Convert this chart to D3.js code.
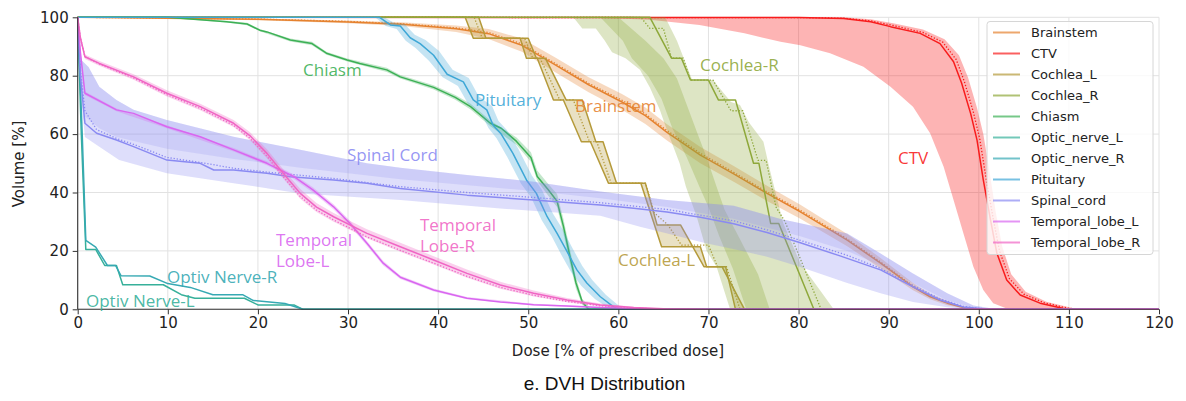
<!DOCTYPE html>
<html><head><meta charset="utf-8">
<script src="https://cdn.jsdelivr.net/npm/d3@7"></script>
<style>body{margin:0;background:#fff}svg{display:block}</style>
</head><body><svg id="c" width="1186" height="401"></svg>
<script>
// ---------- DATA (dose %, volume %) ----------
const structures = ["Brainstem","CTV","Cochlea_L","Cochlea_R","Chiasm","Optic_nerve_L","Optic_nerve_R","Pituitary","Spinal_cord","Temporal_lobe_L","Temporal_lobe_R"];
const xTicks = [0,10,20,30,40,50,60,70,80,90,100,110,120];
const yTicks = [0,20,40,60,80,100];

const brainstemMean = [[0,100],[20,99.3],[30,98.4],[36,97.6],[42,96.1],[45.6,94.4],[49.3,90.4],[53,83.7],[56.7,76.9],[60.4,71.0],[63,66.3],[65.4,60.6],[69.1,52.8],[72.8,46.4],[76.5,39.7],[80.2,33.4],[85.4,23.7],[89.1,15.8],[92.7,7.7],[94.6,4.3],[96.5,2.1],[98.3,0.6],[100,0],[120,0]];
const brainstemMedian = [[0,100],[20,99.4],[30,98.6],[36,97.8],[42,96.4],[45.6,94.8],[49.3,90.9],[53,84.2],[56.7,77.4],[60.4,71.6],[63,66.9],[65.4,61.2],[69.1,53.4],[72.8,46.9],[76.5,40.2],[80.2,33.9],[85.4,24.1],[89.1,16.2],[92.7,8.0],[94.6,4.6],[96.5,2.3],[98.3,0.7],[100.2,0],[120,0]];
const brainstemLo = [[0,100],[20,99],[30,98],[36,97],[42,95],[45.6,92.6],[49.3,88.2],[53,81.2],[56.7,74.3],[60.4,68.3],[63,63.5],[65.4,57.8],[69.1,50],[72.8,43.7],[76.5,37.1],[80.2,31],[85.4,21.6],[89.1,14],[92.7,6.5],[94.6,3.4],[96.5,1.4],[98.3,0.3],[99.5,0],[120,0]];
const brainstemHi = [[0,100],[20,99.6],[30,98.9],[36,98.3],[42,97.2],[45.6,96],[49.3,92.7],[53,86.2],[56.7,79.5],[60.4,73.7],[63,69.1],[65.4,63.4],[69.1,55.6],[72.8,49.1],[76.5,42.3],[80.2,35.8],[85.4,25.8],[89.1,17.6],[92.7,9],[94.6,5.3],[96.5,2.8],[98.3,0.9],[100.5,0],[120,0]];

const ctvMean = [[0,100],[80,99.9],[85,99.6],[88,98.5],[90.2,96.8],[93.5,94.5],[95.7,91],[97.2,84.8],[98.1,77.4],[99.1,67],[99.8,58],[100.5,44.3],[101.3,30.6],[102,19.3],[103.1,10],[104.6,4.9],[106.8,2.1],[109.4,0.3],[112,0],[120,0]];
const ctvMedian = [[0,100],[80,99.9],[85,99.7],[88,98.8],[90.5,97.2],[93.8,94.8],[96,91.5],[97.5,85.5],[98.4,78],[99.4,67.5],[100.1,58.5],[100.8,45],[101.6,31],[102.3,20],[103.4,10.5],[105,5.2],[107.2,2.3],[110,0.3],[112.5,0],[120,0]];
const ctvLo = [[0,100],[55,100],[60,99.6],[63.5,99.2],[69,97.4],[74,94.5],[78,91.6],[80.2,90.4],[83.5,87.7],[87.2,83.1],[90.2,76.2],[92.7,69.4],[94.6,60.3],[96.1,48.8],[97.2,37.4],[98.3,26],[99.4,14.6],[100.5,6.6],[101.6,2.1],[103.1,0.3],[104.5,0],[120,0]];
const ctvHi = [[0,100],[85,100],[88,99.3],[90.5,98],[93.8,95.8],[96.2,92.5],[97.8,87],[98.8,79.5],[99.8,69],[100.5,60],[101.2,47],[101.9,33],[102.6,21.5],[103.6,12],[105.2,6],[107.5,2.6],[110.5,0.4],[113,0],[120,0]];

const cochleaLA = [[0,100],[43.0,100],[43.9,92.8],[49.1,92.8],[49.8,86],[51.0,86],[52.8,71.7],[53.9,71.7],[55.9,57.4],[56.9,57.4],[58.9,43.2],[62.5,43.2],[64.8,21.4],[69.1,21.4],[69.8,14.6],[71.9,14.6],[73.0,0],[120,0]];
const cochleaLB = [[0,100],[44.5,100],[45.3,92.8],[50.0,92.8],[50.9,86],[51.9,86],[54.2,71.7],[56.0,71.7],[57.5,57.4],[58.3,57.4],[59.8,43.2],[63.0,43.2],[64.3,28.9],[66.9,28.9],[69.5,14.6],[71.5,14.6],[74.0,0],[120,0]];
const cochleaLMedian = [[0,100],[44,100],[44.9,92.8],[49.6,92.8],[50.5,86],[51.3,86],[53.5,71.7],[55,71.7],[56.8,57.4],[57.6,57.4],[59.2,43.2],[63,43.2],[64,33],[65.5,28.9],[67,22],[70,22],[71,14.6],[72,14.6],[73.5,0],[120,0]];

const cochleaRMean = [[0,100],[63.5,100],[65.9,86],[67,86],[68,78.5],[70,78.5],[71.1,71.7],[73,71.7],[75,50],[75.6,50],[76.9,29.4],[77.8,29.4],[81.7,0],[120,0]];
const cochleaRMedian = [[0,100],[62.5,100],[63.5,96.2],[65,96.2],[65.9,86],[67.2,86],[68,78.5],[70.5,78.5],[72.5,68],[73.8,68],[75.5,51],[76.4,51],[77.5,35],[78.5,30],[82.5,0],[120,0]];
const cochleaRLo = [[0,100],[55,100],[56,96.2],[57.5,96.2],[58.5,92],[59.3,88],[60.8,86],[62.4,82],[63.5,76],[64.6,68.3],[65.2,63],[66.8,50],[67.5,42],[68.7,31.7],[69.8,20],[70.9,14.6],[72.4,0],[120,0]];
const cochleaRHi = [[0,100],[65.2,100],[66.5,92],[68.2,78.5],[70.5,78.5],[72.5,71],[73.5,70],[74.5,64],[76.1,57.4],[76.8,48],[78.3,29.5],[80.2,15.8],[82.5,6],[83.9,0],[120,0]];
const cochleaRLo2 = [[0,100],[58,100],[60.5,92],[61.5,86],[63.3,80],[64.8,72],[66,62],[67.6,52],[69,42],[70,35],[71.2,25],[72.7,14],[74.2,0],[120,0]];
const cochleaRHi2 = [[0,100],[60,100],[63,92],[65,86],[66.5,79],[67.6,70],[68.8,60],[69.8,52],[70.9,42],[71.8,34],[73.5,24],[75.5,12],[76.8,0],[120,0]];

const chiasmMean = [[0,100],[10,100],[11.4,99.7],[16.5,98.5],[18.8,97.7],[20.2,95.6],[21,95],[23.6,92.2],[26,91],[27.6,87.7],[29.9,85.4],[31.3,84.2],[34.3,82],[35.8,79.6],[39.5,76],[41.9,72.6],[43.6,69.4],[45.8,63.7],[47,62],[48.7,57.5],[50.3,52],[51,45.5],[52.2,41],[53.2,37],[53.9,28.5],[54.6,18.5],[55.3,9],[56,2.5],[56.7,0],[120,0]];
const chiasmLo = [[0,100],[10,100],[11.4,99.5],[16.5,98.2],[18.8,97.3],[20.2,95.2],[23.6,91.7],[26,90.4],[27.6,87.2],[29.9,84.9],[34.3,81.3],[35.8,79],[39.5,75.3],[41.9,71.8],[43.6,68.4],[45.8,62.7],[48.7,56.3],[50.3,50.5],[51,44],[52.2,39],[53.2,35],[53.9,26],[54.6,16],[55.3,7],[56,1.5],[56.5,0],[120,0]];
const chiasmHi = [[0,100],[10,100],[11.4,99.9],[16.5,98.8],[18.8,98.1],[20.2,96],[23.6,92.7],[26,91.6],[27.6,88.2],[29.9,85.9],[34.3,82.7],[35.8,80.2],[39.5,76.7],[41.9,73.4],[43.6,70.4],[45.8,64.7],[48.7,58.8],[50.3,53.8],[51,47.5],[52.2,43],[53.2,39.5],[53.9,31],[54.6,21],[55.3,11],[56,3.5],[57,0],[120,0]];

const opticLMean = [[0,100],[0.4,60],[0.9,20.5],[2,20.5],[3,15],[4.3,15],[5,8.4],[9.5,8.4],[11.5,5],[13,3.8],[18.5,3.8],[20,1.5],[24,1.5],[25,0],[120,0]];
const opticRMean = [[0,100],[0.5,60],[0.9,23.6],[2,21.3],[3.3,15],[4.2,15],[4.8,11.5],[8,11.4],[10,8.8],[12.5,7.5],[15,5],[18.3,5],[19.5,3],[23,2],[25,0],[120,0]];

const pituitaryMean = [[0,100],[33.5,100],[34.7,97.4],[35.8,97],[36.9,93],[38,91],[39.5,87],[41,80.5],[42.8,77.9],[43.9,71.7],[45.4,68.3],[46.1,63],[47,60],[48.3,53.4],[49.8,44.3],[50.9,39.7],[52.1,31.7],[53.2,26],[54.3,19.8],[55.4,13.5],[56.5,9],[58,4.3],[59.4,1],[60,0],[120,0]];
const pituitaryLo = [[0,100],[33,100],[34.2,97],[35.4,96],[36.4,92],[37.5,89.5],[39,85],[40.5,79.5],[42.2,76.5],[43.3,70.5],[44.8,66.8],[45.6,62],[46.5,58.5],[47.7,52],[49.2,43],[50.3,38.5],[51.5,30.5],[52.6,25],[53.7,18.5],[54.8,12.5],[55.9,8],[57.4,3.5],[58.8,0.6],[59.4,0],[120,0]];
const pituitaryHi = [[0,100],[34,100],[35.2,98],[36.3,97.6],[37.4,94],[38.6,92.2],[40.1,88.5],[41.6,82],[43.4,79.2],[44.5,73],[46,69.5],[46.7,64.5],[47.6,61.5],[48.9,55],[50.4,45.8],[51.5,41],[52.7,33],[53.8,27.5],[54.9,21],[56,14.8],[57.1,10],[58.6,5],[60,1.4],[60.6,0],[120,0]];

const spinalMean = [[0,100],[0.3,80],[0.8,63.7],[2.1,60.3],[4.3,58],[6.2,55.7],[9.9,51.1],[13.6,50],[15.1,47.7],[17.3,47.7],[21,46.6],[23.6,45.4],[28.4,44.3],[32.1,43.2],[35.8,41.4],[43.2,39.1],[50.6,37.4],[58,35.7],[61.7,34.6],[65.4,33.3],[69.1,31.5],[72.8,29.3],[76.5,26.3],[80.2,22.8],[84.6,18.3],[89.1,13.5],[92.7,7.7],[95.7,3.2],[98.3,0.8],[101,0],[120,0]];
const spinalMedian = [[0,100],[0.3,82],[0.8,68],[2.1,61.5],[4.3,58.5],[6.2,56.5],[9.9,52],[13.6,50.3],[17.3,48.3],[21,47],[28.4,44.8],[35.8,42],[43.2,40],[50.6,38.3],[58,36.5],[65.4,34.2],[72.8,30.3],[76.5,27.2],[80.2,23.6],[85.4,18.5],[89.1,14],[92.7,8.2],[95.7,3.6],[98.3,1],[101,0],[120,0]];
const spinalLo = [[0,100],[0.3,75],[0.8,59],[2.4,55.7],[4.6,51.1],[9.9,46.6],[17.3,43.2],[24.7,39.7],[35.8,37.4],[46.9,34.5],[58,32],[62.4,28.3],[66,25.5],[69.6,22.7],[73,20.5],[76.5,18],[80.2,14.5],[85.4,9],[89.1,5.5],[92.7,2.5],[96.5,0.7],[99,0],[120,0]];
const spinalHi = [[0,100],[0.4,85.4],[1.2,83],[2.4,76.2],[4.3,71.7],[6.2,68.3],[9.9,64.8],[17.3,59.1],[24.7,54.6],[32.1,50],[35.8,48.5],[43.2,46],[50.6,43.7],[58,40.3],[65.4,37.4],[72.8,35.5],[77.9,31],[80.2,29.5],[85.4,26],[89.1,19.1],[92.7,12.3],[96.5,5.5],[99.4,1.3],[102,0],[120,0]];
const spinalLo2 = [[0,100],[0.3,80],[0.8,66],[2.4,62],[4.3,59],[9.9,55],[17.3,51.5],[24.7,48.5],[35.8,44.5],[50.6,40.5],[58,38],[65.4,35],[72.8,31],[80.2,25],[85.4,20],[89.1,15],[92.7,9],[96.5,3],[100,0],[120,0]];

const temporalLMean = [[0,100],[0.3,88],[0.8,74],[4.3,68.3],[6.2,67.1],[9.9,62.5],[13.6,59.1],[17.3,54.6],[21,50],[24,45.4],[26.1,40.9],[28.4,35.1],[30.2,29.5],[32.1,22.6],[33.9,15.8],[35.8,11],[39.5,6.6],[43.2,3.8],[46.9,2.5],[50.6,1.6],[54.3,1.1],[58,0.6],[65,0],[120,0]];
const temporalLLo = [[0,100],[0.3,87],[0.8,73.4],[4.3,67.8],[9.9,62],[17.3,54],[21,49.3],[24,44.6],[26.1,40],[28.4,34.2],[30.2,28.6],[32.1,21.8],[33.9,15],[35.8,10.4],[39.5,6.1],[43.2,3.4],[50.6,1.3],[58,0.4],[64,0],[120,0]];
const temporalLHi = [[0,100],[0.3,89],[0.8,74.6],[4.3,68.8],[9.9,63],[17.3,55.2],[21,50.7],[24,46.2],[26.1,41.8],[28.4,36],[30.2,30.4],[32.1,23.4],[33.9,16.6],[35.8,11.6],[39.5,7.1],[43.2,4.2],[50.6,1.9],[58,0.8],[66,0],[120,0]];

const temporalRMean = [[0,100],[0.3,93],[0.8,86.5],[2.4,84.2],[6.2,79.6],[9.9,74],[13.6,69.4],[17.3,63.7],[19.1,59.5],[21,53.4],[22.8,46.6],[24.7,39.7],[26.5,35],[28.4,31.7],[32.1,26],[35.8,21.4],[39.5,16.9],[43.2,12.3],[46.9,8.3],[50.6,5.5],[54.3,3.2],[58,1.5],[61.7,0.6],[65,0.2],[70,0],[120,0]];
const temporalRMedian = [[0,100],[0.3,93],[0.8,86.5],[2.4,84],[6.2,79.2],[9.9,73.5],[13.6,68.8],[17.3,63],[19.1,58.6],[21,52.4],[22.8,45.5],[24.7,38.6],[26.5,34],[28.4,30.6],[32.1,24.8],[35.8,20.2],[39.5,15.8],[43.2,11.3],[46.9,7.5],[50.6,4.8],[54.3,2.7],[58,1.2],[61.7,0.4],[66,0],[120,0]];
const temporalRLo = [[0,100],[0.3,92],[0.8,85.7],[2.4,83.4],[6.2,78.6],[9.9,72.9],[13.6,68.2],[17.3,62.4],[19.1,58],[21,51.7],[22.8,44.8],[24.7,37.9],[26.5,33.3],[28.4,30],[32.1,24.3],[35.8,19.7],[39.5,15.3],[43.2,10.8],[46.9,7],[50.6,4.4],[54.3,2.4],[58,1],[61.7,0.3],[64,0],[120,0]];
const temporalRHi = [[0,100],[0.3,94],[0.8,87.3],[2.4,85],[6.2,80.5],[9.9,75],[13.6,70.4],[17.3,64.8],[19.1,60.7],[21,54.8],[22.8,48],[24.7,41.2],[26.5,36.4],[28.4,33],[32.1,27.4],[35.8,22.8],[39.5,18.2],[43.2,13.6],[46.9,9.4],[50.6,6.4],[54.3,3.9],[58,2],[61.7,0.9],[65,0.3],[71,0],[120,0]];

const colors = ["#e5822f","#f81c1c","#b59a3a","#8ea83a","#3cb055","#36b09a","#36a9b3","#3ea7d6","#8a8af2","#d966f0","#f065c4"];

const labels = [
  {lines:["Chiasm"], x:303, y:69.5, c:4},
  {lines:["Pituitary"], x:475, y:99.5, c:7},
  {lines:["Brainstem"], x:575, y:105.5, c:0},
  {lines:["Cochlea-R"], x:700, y:64.5, c:3},
  {lines:["CTV"], x:898, y:157, c:1},
  {lines:["Spinal Cord"], x:347, y:154, c:8},
  {lines:["Temporal","Lobe-R"], x:420, y:224, c:10},
  {lines:["Temporal","Lobe-L"], x:276, y:239, c:9},
  {lines:["Cochlea-L"], x:618, y:259, c:2},
  {lines:["Optiv Nerve-R"], x:167, y:276, c:6},
  {lines:["Optiv Nerve-L"], x:86, y:300, c:5}
];

// ---------- DRAW ----------
const svg = d3.select("#c");
const x = d3.scaleLinear().domain([0,120]).range([77.7,1159]);
const y = d3.scaleLinear().domain([0,100]).range([309.3,17.3]);
const line = d3.line().x(d=>x(d[0])).y(d=>y(d[1]));
const poly = (lo,hi)=> line(lo.concat(hi.slice().reverse())) + "Z";

// grid
const g = svg.append("g");
g.selectAll(".gx").data(xTicks).enter().append("line")
  .attr("x1",d=>x(d)).attr("x2",d=>x(d)).attr("y1",y(0)).attr("y2",y(100))
  .attr("stroke","#e2e2e2").attr("stroke-width",1);
g.selectAll(".gy").data(yTicks).enter().append("line")
  .attr("x1",x(0)).attr("x2",x(120)).attr("y1",d=>y(d)).attr("y2",d=>y(d))
  .attr("stroke","#e2e2e2").attr("stroke-width",1);

const plot = svg.append("g");
function band(lo,hi,ci,op){ plot.append("path").attr("d",poly(lo,hi)).attr("fill",colors[ci]).attr("fill-opacity",op).attr("stroke","none"); }
function solid(data,ci,w){ plot.append("path").attr("d",line(data)).attr("fill","none").attr("stroke",colors[ci]).attr("stroke-width",w||1.5).attr("stroke-linejoin","round"); }
function dotted(data,ci){ plot.append("path").attr("d",line(data)).attr("fill","none").attr("stroke",colors[ci]).attr("stroke-width",1.3).attr("stroke-dasharray","1.3,1.8"); }

// Brainstem
band(brainstemLo,brainstemHi,0,0.3); solid(brainstemMean,0); dotted(brainstemMedian,0);
// CTV
band(ctvLo,ctvHi,1,0.33); solid(ctvMean,1); dotted(ctvMedian,1);
// Cochlea_L
band(cochleaLA,cochleaLB,2,0.3); solid(cochleaLA,2); solid(cochleaLB,2); dotted(cochleaLMedian,2);
// Cochlea_R
band(cochleaRLo,cochleaRHi,3,0.3); band(cochleaRLo2,cochleaRHi2,3,0.3); solid(cochleaRMean,3); dotted(cochleaRMedian,3);
// Chiasm
band(chiasmLo,chiasmHi,4,0.3); solid(chiasmMean,4);
// Optic nerves
solid(opticLMean,5); solid(opticRMean,6);
// Pituitary
band(pituitaryLo,pituitaryHi,7,0.3); solid(pituitaryMean,7);
// Spinal cord
band(spinalLo,spinalHi,8,0.28); band(spinalLo2,spinalHi,8,0.2); solid(spinalMean,8); dotted(spinalMedian,8);
// Temporal lobes
band(temporalLLo,temporalLHi,9,0.3); solid(temporalLMean,9);
band(temporalRLo,temporalRHi,10,0.3); solid(temporalRMean,10); dotted(temporalRMedian,10);

// axes
const font = "DejaVu Sans, sans-serif";
const ax = svg.append("g").attr("transform",`translate(0,${y(0)})`)
  .call(d3.axisBottom(x).tickValues(xTicks).tickSize(5).tickPadding(3.5).tickFormat(d3.format("d")));
const ay = svg.append("g").attr("transform",`translate(${x(0)},0)`)
  .call(d3.axisLeft(y).tickValues(yTicks).tickSize(5).tickPadding(4).tickFormat(d3.format("d")));
[ax,ay].forEach(a=>{
  a.select(".domain").attr("stroke","#333").attr("stroke-width",1.1);
  a.selectAll(".tick line").attr("stroke","#333");
  a.selectAll("text").attr("font-family",font).attr("font-size",15).attr("fill","#222");
});
ax.select(".domain").attr("d",`M${x(0)},0H${x(120)}`);
ay.select(".domain").attr("d",`M0,${y(0)}V${y(100)}`);

svg.append("text").attr("x",618).attr("y",351).attr("text-anchor","middle").attr("dominant-baseline","central")
  .attr("font-family",font).attr("font-size",15).attr("fill","#222").text("Dose [% of prescribed dose]");
svg.append("text").attr("transform","translate(19,164) rotate(-90)").attr("text-anchor","middle").attr("dominant-baseline","central")
  .attr("font-family",font).attr("font-size",15).attr("fill","#222").text("Volume [%]");
svg.append("text").attr("x",604.5).attr("y",383).attr("text-anchor","middle").attr("dominant-baseline","central")
  .attr("font-family","Liberation Sans, Arial, sans-serif").attr("font-size",19).attr("fill","#111").text("e. DVH Distribution");

// annotations
labels.forEach(l=>{
  const t = svg.append("text").attr("font-family","Open Sans, sans-serif").attr("font-size",17)
    .attr("fill",colors[l.c]).attr("fill-opacity",0.9);
  l.lines.forEach((s,i)=>t.append("tspan").attr("x",l.x).attr("y",l.y+i*21).attr("dominant-baseline","central").text(s));
});

// legend
const lg = svg.append("g");
lg.append("rect").attr("x",987).attr("y",21.5).attr("width",166).attr("height",233).attr("rx",3)
  .attr("fill","#fff").attr("fill-opacity",0.8).attr("stroke","#d6d6d6");
const items = lg.selectAll(".it").data(structures).enter().append("g");
items.append("line").attr("x1",993).attr("x2",1020).attr("y1",(d,i)=>32.5+i*21).attr("y2",(d,i)=>32.5+i*21)
  .attr("stroke",(d,i)=>colors[i]).attr("stroke-width",2).attr("stroke-opacity",0.7);
items.append("text").attr("x",1031).attr("y",(d,i)=>32.5+i*21).attr("dominant-baseline","central")
  .attr("font-family",font).attr("font-size",13).attr("fill","#222").text(d=>d);
</script></body></html>
